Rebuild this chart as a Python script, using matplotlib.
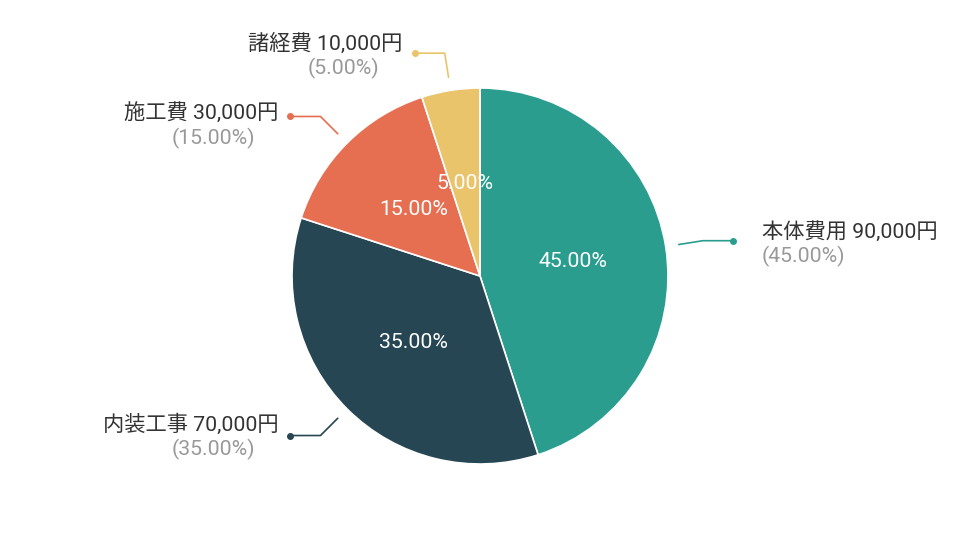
import numpy as np
import matplotlib
matplotlib.use("Agg")
import matplotlib.pyplot as plt

plt.rcParams['font.family'] = ['Roboto', 'Noto Sans CJK JP', 'DejaVu Sans']

categories = ["本体費用", "内装工事", "施工費", "諸経費"]
values = [90000, 70000, 30000, 10000]
colors = ["#2a9d8f", "#264653", "#e76f51", "#e9c46a"]

W, H = 960, 540
fig = plt.figure(figsize=(9.6, 5.4), dpi=100)
ax = fig.add_axes([0, 0, 1, 1])

cx, cy, R = 480, H - 276, 188
total = sum(values)
wedges, texts, autotexts = ax.pie(
    values, colors=colors, startangle=90, counterclock=False,
    center=(cx, cy), radius=R, autopct='%1.2f%%', pctdistance=0.5,
    wedgeprops=dict(edgecolor='white', linewidth=1.2),
    textprops=dict(color='white', fontsize=15.3))
ax.set_xlim(0, W)
ax.set_ylim(0, H)
ax.set_aspect('auto')
ax.axis('off')

# label offsets (layout): vertical shift of first line relative to dot
line1_dy = [9, 11, 3, 10]
fs = 15.3
for w, cat, v, col, d1 in zip(wedges, categories, values, colors, line1_dy):
    mid = np.deg2rad((w.theta1 + w.theta2) / 2)
    ux, uy = np.cos(mid), np.sin(mid)
    x0, y0 = cx + 1.07 * R * ux, cy + 1.07 * R * uy
    x1, y1 = cx + 1.2 * R * ux, cy + 1.2 * R * uy
    side = 1 if ux > 0 else -1
    x2 = x1 + side * 30
    ax.plot([x0, x1, x2], [y0, y1, y1], color=col, lw=1.2, solid_capstyle='round')
    ax.plot([x2], [y1], 'o', color=col, ms=4)
    pct = v / total * 100
    name = f"{cat} {v:,}円"
    if side > 0:
        tx = x2 + 29
        ax.text(tx, y1 + d1, name, ha='left', va='center', fontsize=fs, color='#333333')
        ax.text(tx, y1 + d1 - 25, f"({pct:.2f}%)", ha='left', va='center', fontsize=fs, color='#999999')
    else:
        tx = x2 - 12
        ax.text(tx, y1 + d1, name, ha='right', va='center', fontsize=fs, color='#333333')
        ax.text(tx - 23, y1 + d1 - 25, f"({pct:.2f}%)", ha='right', va='center', fontsize=fs, color='#999999')

fig.savefig("out.png", dpi=100, facecolor='white')
